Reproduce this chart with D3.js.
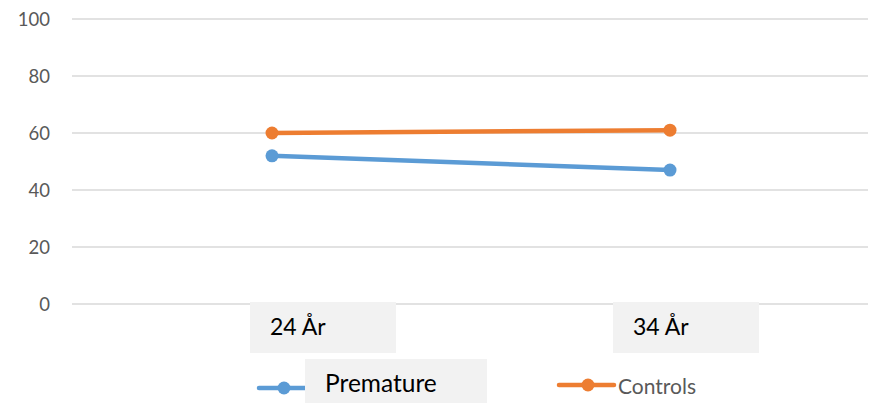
<!DOCTYPE html>
<html><head><meta charset="utf-8">
<script src="https://cdn.jsdelivr.net/npm/d3@7"></script>
<style>body{margin:0;background:#fff}svg{display:block}</style>
</head><body>
<svg id="c" width="869" height="403"></svg>
<script>
const categories = ["24 År", "34 År"];
const premature = [52, 47];
const controls = [60, 61];
const yTicks = [0, 20, 40, 60, 80, 100];
const seriesNames = ["Premature", "Controls"];
const colors = ["#5B9BD5", "#ED7D31"];
// label box layout offsets (relative to category position)
const labelBoxOffset = [-22, -57];

const svg = d3.select("#c");
const font = "Lato, 'Open Sans', sans-serif";
const x = d3.scalePoint().domain(categories).range([73, 869]).padding(0.5);
const y = d3.scaleLinear().domain([0, 100]).range([304, 19]);

// gridlines
svg.append("g").selectAll("line").data(yTicks).join("line")
  .attr("x1", 72).attr("x2", 868)
  .attr("y1", d => y(d)).attr("y2", d => y(d))
  .attr("stroke", "#D9D9D9").attr("stroke-width", 1.3);

// y axis labels
const yAxis = d3.axisLeft(y).tickValues(yTicks).tickSize(0).tickPadding(0);
const ya = svg.append("g").attr("transform", "translate(50,0)").call(yAxis);
ya.select(".domain").remove();
ya.selectAll("text").attr("font-family", font).attr("font-size", 18.5).attr("fill", "#595959").attr("dy", "0.35em");

// category label boxes
const cat = svg.append("g").selectAll("g").data(categories).join("g")
  .attr("transform", (d, i) => `translate(${x(d) + labelBoxOffset[i]},0)`);
cat.append("rect").attr("x", 0).attr("y", 302).attr("width", 146).attr("height", 51).attr("fill", "#F2F2F2");
cat.append("text").attr("x", 20).attr("y", 335).text(d => d)
  .attr("font-family", font).attr("font-size", 23).attr("fill", "#000");

// lines
const data = [premature, controls];
const line = d3.line().x((d, i) => x(categories[i])).y(d => y(d));
data.forEach((vals, s) => {
  svg.append("path").attr("d", line(vals)).attr("fill", "none")
    .attr("stroke", colors[s]).attr("stroke-width", 4.5).attr("stroke-linecap", "round");
  svg.append("g").selectAll("circle").data(vals).join("circle")
    .attr("cx", (d, i) => x(categories[i])).attr("cy", d => y(d)).attr("r", 6.5)
    .attr("fill", colors[s]);
});

// legend
const lg = svg.append("g");
// Premature
lg.append("line").attr("x1", 259).attr("x2", 310).attr("y1", 388).attr("y2", 388)
  .attr("stroke", colors[0]).attr("stroke-width", 4.5).attr("stroke-linecap", "round");
lg.append("circle").attr("cx", 284).attr("cy", 388).attr("r", 6.5).attr("fill", colors[0]);
lg.append("rect").attr("x", 305).attr("y", 359).attr("width", 182).attr("height", 44).attr("fill", "#F2F2F2");
lg.append("text").attr("x", 325).attr("y", 392).text(seriesNames[0])
  .attr("font-family", font).attr("font-size", 24.5).attr("fill", "#000");
// Controls
lg.append("line").attr("x1", 559).attr("x2", 614).attr("y1", 385).attr("y2", 385)
  .attr("stroke", colors[1]).attr("stroke-width", 4.5).attr("stroke-linecap", "round");
lg.append("circle").attr("cx", 588).attr("cy", 385).attr("r", 6.5).attr("fill", colors[1]);
lg.append("text").attr("x", 618).attr("y", 394).text(seriesNames[1])
  .attr("font-family", font).attr("font-size", 21).attr("fill", "#595959");
</script>
</body></html>
